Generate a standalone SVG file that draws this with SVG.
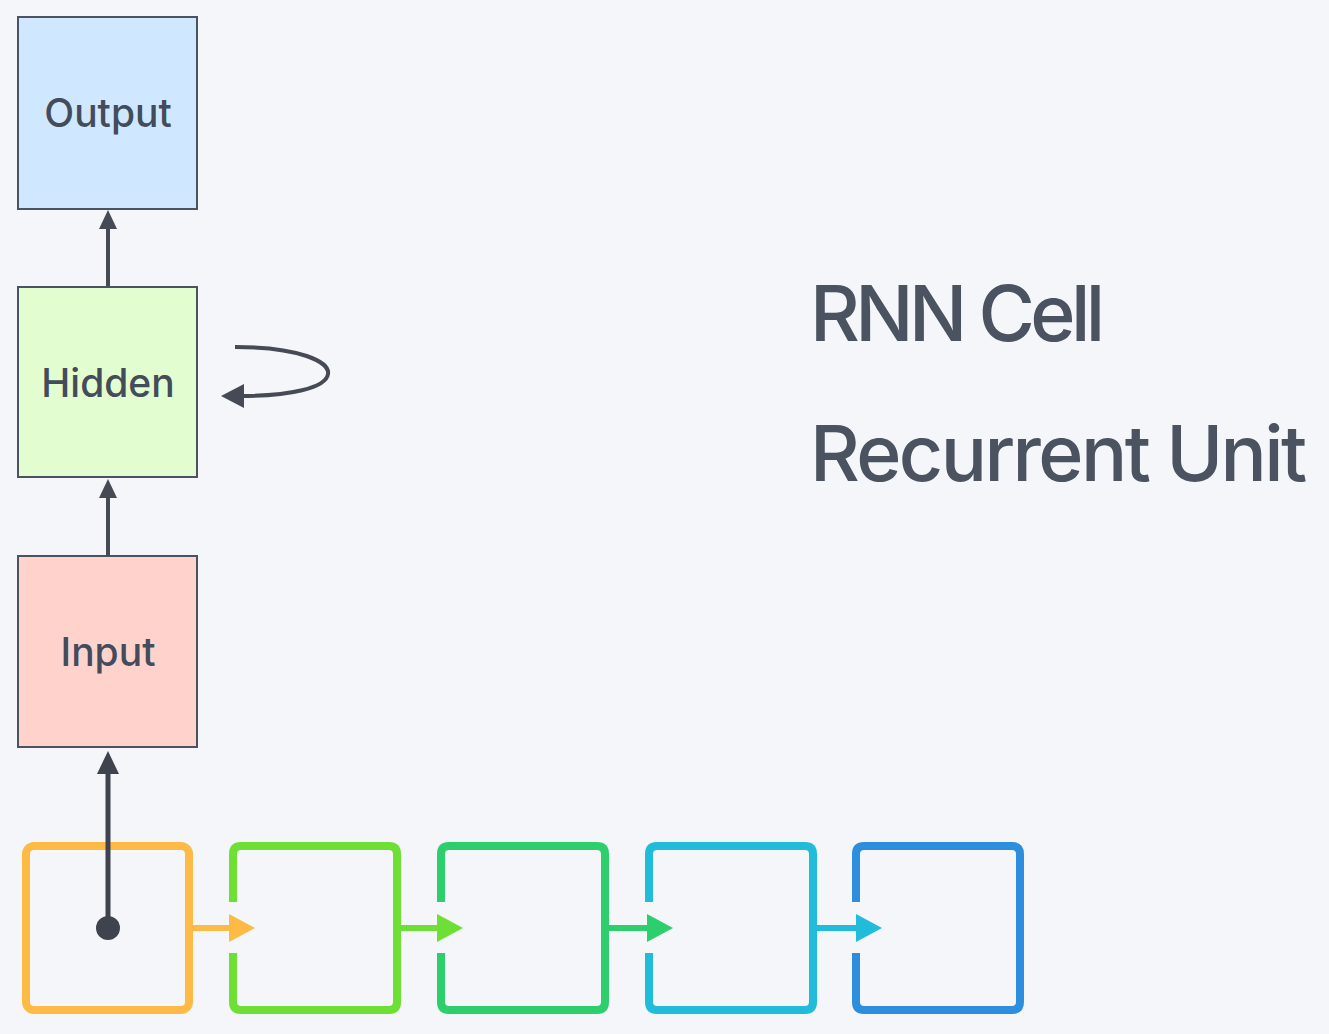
<svg xmlns="http://www.w3.org/2000/svg" width="1329" height="1034" viewBox="0 0 1329 1034">
<style>
.node rect.box{stroke:#4B5260;stroke-width:2}
.lbl{font-family:Inter,"Liberation Sans",sans-serif;font-size:39px;font-weight:500;fill:#434C5A;text-anchor:middle}
.title{font-family:Inter,"Liberation Sans",sans-serif;font-size:77px;font-weight:500;fill:#4B5260}
.conn{fill:none;stroke:#454A55;stroke-width:4}
.seq{fill:none;stroke-width:8;stroke-linejoin:round}
</style>
<rect width="1329" height="1034" fill="#F4F6FA"/>

<g id="output" class="node">
<rect class="box" x="18" y="17" width="179" height="192" fill="#CFE8FF"/>
<text class="lbl" x="108" y="127">Output</text>
</g>
<g id="hidden" class="node">
<rect class="box" x="18" y="287" width="179" height="190" fill="#E2FDD0"/>
<text class="lbl" x="108" y="397">Hidden</text>
</g>
<g id="input" class="node">
<rect class="box" x="18" y="556" width="179" height="191" fill="#FFD3CC"/>
<text class="lbl" x="108" y="666">Input</text>
</g>

<g id="title">
<text class="title" x="810" y="341" letter-spacing="-4.6">RNN Cell</text>
<text class="title" x="810" y="481" letter-spacing="-2.6">Recurrent Unit</text>
</g>

<g id="sequence">
<g id="seq1"><rect class="seq" x="26" y="846" width="163" height="164" rx="8" stroke="#FDBA45"/></g>
<g id="seq2"><path class="seq" d="M233,902 V854 Q233,846 241,846 H389 Q397,846 397,854 V1002 Q397,1010 389,1010 H241 Q233,1010 233,1002 V953" stroke="#6DDF35"/></g>
<g id="seq3"><path class="seq" d="M441,902 V854 Q441,846 449,846 H597 Q605,846 605,854 V1002 Q605,1010 597,1010 H449 Q441,1010 441,1002 V953" stroke="#2CCF6C"/></g>
<g id="seq4"><path class="seq" d="M649,902 V854 Q649,846 657,846 H805 Q813,846 813,854 V1002 Q813,1010 805,1010 H657 Q649,1010 649,1002 V953" stroke="#22BCDB"/></g>
<g id="seq5"><path class="seq" d="M856,902 V854 Q856,846 864,846 H1012 Q1020,846 1020,854 V1002 Q1020,1010 1012,1010 H864 Q856,1010 856,1002 V953" stroke="#2C8EDD"/></g>
</g>

<g id="connectors">
<line class="conn" x1="108" y1="286" x2="108" y2="228"/>
<path d="M108,210 L117,229 L99,229 z" fill="#454A55"/>
<line class="conn" x1="108" y1="556" x2="108" y2="498"/>
<path d="M108,479 L117,498 L99,498 z" fill="#454A55"/>
<path class="conn" stroke-width="4.5" d="M235,347 C300,347 330,362 328,374 C326,388 290,396 240,396"/>
<path d="M221,396 L244,384 L244,408 z" fill="#454A55"/>
<line x1="108" y1="928" x2="108" y2="770" stroke="#3F434D" stroke-width="5"/>
<path d="M108,751 L119,774 L97,774 z" fill="#3F434D"/>
<circle cx="108" cy="928" r="12" fill="#3F434D"/>
<line x1="193" y1="928" x2="232" y2="928" stroke="#FDBA45" stroke-width="6"/>
<path d="M255,928 L229,914 L229,942 z" fill="#FDBA45"/>
<line x1="401" y1="928" x2="440" y2="928" stroke="#6DDF35" stroke-width="6"/>
<path d="M463,928 L437,914 L437,942 z" fill="#6DDF35"/>
<line x1="609" y1="928" x2="648" y2="928" stroke="#2CCF6C" stroke-width="6"/>
<path d="M673,928 L647,914 L647,942 z" fill="#2CCF6C"/>
<line x1="817" y1="928" x2="856" y2="928" stroke="#22BCDB" stroke-width="6"/>
<path d="M882,928 L856,914 L856,942 z" fill="#22BCDB"/>
</g>
</svg>
